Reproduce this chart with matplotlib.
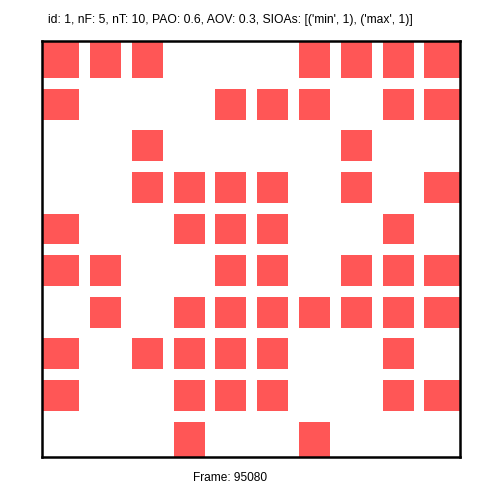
import matplotlib
matplotlib.use("Agg")
import matplotlib.pyplot as plt
import numpy as np

title = "id: 1, nF: 5, nT: 10, PAO: 0.6, AOV: 0.3, SIOAs: [('min', 1), ('max', 1)]"
frame_label = "Frame: 95080"

# occupancy grid, row 0 is the top row
grid = np.array([
    [1, 1, 1, 0, 0, 0, 1, 1, 1, 1],
    [1, 0, 0, 0, 1, 1, 1, 0, 1, 1],
    [0, 0, 1, 0, 0, 0, 0, 1, 0, 0],
    [0, 0, 1, 1, 1, 1, 0, 1, 0, 1],
    [1, 0, 0, 1, 1, 1, 0, 0, 1, 0],
    [1, 1, 0, 0, 1, 1, 0, 1, 1, 1],
    [0, 1, 0, 1, 1, 1, 1, 1, 1, 1],
    [1, 0, 1, 1, 1, 1, 0, 0, 1, 0],
    [1, 0, 0, 1, 1, 1, 0, 0, 1, 1],
    [0, 0, 0, 1, 0, 0, 1, 0, 0, 0],
])

color = '#ff5656'
lo, hi = 0.15, 0.89
n_rows, n_cols = grid.shape

fig = plt.figure(figsize=(5.02, 5.02), dpi=100)
ax = fig.add_axes([42 / 502, 44 / 502, 418 / 502, 416 / 502])

rows, cols = np.nonzero(grid)
# cells on the border stretch out to the frame
left = np.where(cols == 0, 0, cols + lo)
right = np.where(cols == n_cols - 1, n_cols, cols + hi)
top = np.where(rows == 0, 0, rows + lo)
bottom = np.where(rows == n_rows - 1, n_rows, rows + hi)

ax.bar(left, bottom - top, width=right - left, bottom=top, align='edge',
       color=color, linewidth=0)

ax.set_xlim(0, n_cols)
ax.set_ylim(n_rows, 0)
ax.set_xticks([])
ax.set_yticks([])
for s in ax.spines.values():
    s.set_linewidth(1.8)
    s.set_color('black')

fig.text(48 / 502, 1 - 20 / 502, title, ha='left', va='center',
         fontsize=8.7, family='Liberation Sans')
fig.text(193 / 502, 1 - 478 / 502, frame_label, ha='left', va='center',
         fontsize=8.6, family='Liberation Sans')

fig.savefig('out.png', dpi=100)
